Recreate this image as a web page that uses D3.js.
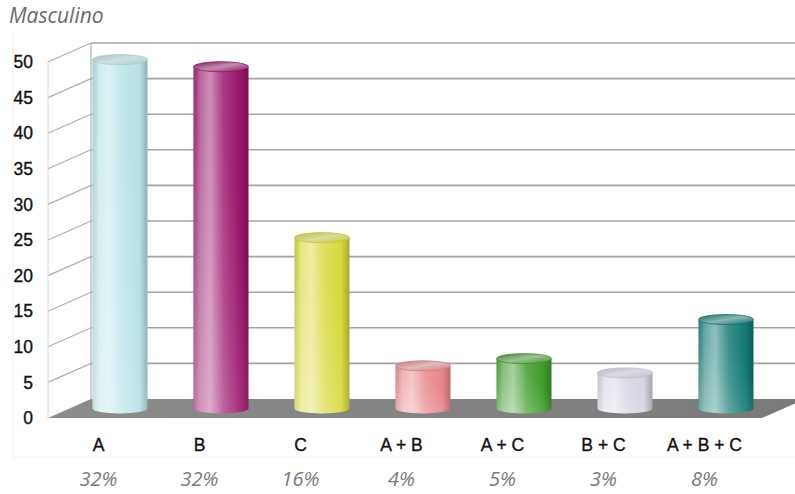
<!DOCTYPE html>
<html>
<head>
<meta charset="utf-8">
<script src="https://cdn.jsdelivr.net/npm/d3@7/dist/d3.min.js"></script>
<style>
  html, body { margin: 0; padding: 0; background: #fff; }
  svg { display: block; }
</style>
</head>
<body>
<svg id="chart" width="795" height="494"></svg>
<script>
// Data
const categories = ["A", "B", "C", "A + B", "A + C", "B + C", "A + B + C"];
const values = [49, 48, 24, 6, 7, 5, 12.5];
const shares = ["32%", "32%", "16%", "4%", "5%", "3%", "8%"];
const yTicks = [0, 5, 10, 15, 20, 25, 30, 35, 40, 45, 50];
const colors = ["#b6e2e6", "#9a156c", "#d8d83c", "#e8868a", "#3f9c2c", "#d4d4e2", "#137a74"];

const svg = d3.select("#chart");
const W = 795, H = 494;

// 3D frame: front plane and depth offset
const front = { left: 48, right: 755, bottom: 418, top: 62 };
const depth = { dx: 43, dy: -19 };

const x = d3.scaleBand().domain(categories).range([front.left, front.right]);
const y = d3.scaleLinear().domain([0, 50]).range([front.bottom, front.top]);

const defs = svg.append("defs");

// faint outer frame of chart area
svg.append("path").attr("d", `M13,30 L13,457 L${W},457`)
  .attr("fill", "none").attr("stroke", "#f0f0f0").attr("stroke-width", 1);

// floor
const floorGrad = defs.append("linearGradient").attr("id", "floor").attr("x1", 0).attr("y1", 0).attr("x2", 1).attr("y2", 0);
floorGrad.append("stop").attr("offset", "0%").attr("stop-color", "#8c8c8c");
floorGrad.append("stop").attr("offset", "100%").attr("stop-color", "#7a7a7a");
const floorRight = 762;
svg.append("path")
  .attr("d", `M${front.left},${y(0)} L${floorRight},${y(0)} L${floorRight + depth.dx},${y(0) + depth.dy} L${front.left + depth.dx},${y(0) + depth.dy} Z`)
  .attr("fill", "url(#floor)");

// back wall gridlines
const grid = svg.append("g");
grid.selectAll("line.back").data(yTicks.filter(d => d > 0)).join("line")
  .attr("class", "back")
  .attr("x1", front.left + depth.dx).attr("x2", W + 20)
  .attr("y1", d => y(d) + depth.dy).attr("y2", d => y(d) + depth.dy)
  .attr("stroke", "#a4a4a4").attr("stroke-width", 1.6);

// side wall diagonals
grid.selectAll("line.side").data(yTicks.filter(d => d > 0)).join("line")
  .attr("class", "side")
  .attr("x1", front.left).attr("x2", front.left + depth.dx)
  .attr("y1", d => y(d)).attr("y2", d => y(d) + depth.dy)
  .attr("stroke", "#b0b0b0").attr("stroke-width", 1.2);

// wall edges
grid.append("line").attr("x1", front.left + depth.dx).attr("x2", front.left + depth.dx)
  .attr("y1", y(50) + depth.dy).attr("y2", y(0) + depth.dy)
  .attr("stroke", "#b0b0b0").attr("stroke-width", 1.2);
grid.append("line").attr("x1", front.left).attr("x2", front.left)
  .attr("y1", y(50)).attr("y2", y(0))
  .attr("stroke", "#d4d4d4").attr("stroke-width", 1);

// y-axis labels
const yAxis = d3.axisLeft(y).tickValues(yTicks).tickSize(0).tickPadding(15);
const yg = svg.append("g").attr("transform", `translate(${front.left},0)`).call(yAxis);
yg.select(".domain").remove();
yg.selectAll("text")
  .attr("font-family", "Liberation Sans, Arial, sans-serif")
  .attr("font-size", 17.5).attr("fill", "#111")
  .attr("stroke", "#111").attr("stroke-width", 0.35);

// cylinders
const rx = 27.5, ry = 5;
const midDx = depth.dx / 2, midDy = depth.dy / 2;
const tint = (c, t) => d3.interpolateRgb(c, "#fff")(t);

categories.forEach((c, i) => {
  const base = d3.color(colors[i]);
  const g = defs.append("linearGradient").attr("id", "body" + i).attr("x1", 0).attr("x2", 1).attr("y1", 0).attr("y2", 0);
  const stops = [
    [0, base.darker(0.35)],
    [0.12, tint(base, 0.3)],
    [0.3, tint(base, 0.5)],
    [0.55, tint(base, 0.15)],
    [0.85, base],
    [1, base.darker(0.7)]
  ];
  stops.forEach(([o, col]) => g.append("stop").attr("offset", o).attr("stop-color", col));

  const gl = defs.append("linearGradient").attr("id", "gloss" + i).attr("x1", 0).attr("y1", 1).attr("x2", 1).attr("y2", 0);
  gl.append("stop").attr("offset", "0%").attr("stop-color", "#fff").attr("stop-opacity", 0.4);
  gl.append("stop").attr("offset", "45%").attr("stop-color", "#fff").attr("stop-opacity", 0.1);
  gl.append("stop").attr("offset", "70%").attr("stop-color", "#fff").attr("stop-opacity", 0);

  const tg = defs.append("linearGradient").attr("id", "top" + i).attr("x1", 0).attr("x2", 1).attr("y1", 0).attr("y2", 1);
  tg.append("stop").attr("offset", "0%").attr("stop-color", base.darker(0.4));
  tg.append("stop").attr("offset", "50%").attr("stop-color", d3.interpolateRgb(base, "#ddd")(0.6));
  tg.append("stop").attr("offset", "100%").attr("stop-color", base.darker(0.2));
});

const cyl = svg.append("g");
categories.forEach((c, i) => {
  const cx = x(c) + x.bandwidth() / 2 + midDx;
  const yb = y(0) + midDy;
  const yt = y(values[i]) + midDy;
  const body = `M${cx - rx},${yt} L${cx - rx},${yb} A${rx},${ry} 0 0 0 ${cx + rx},${yb} L${cx + rx},${yt} Z`;
  cyl.append("path").attr("d", body).attr("fill", `url(#body${i})`);
  cyl.append("path").attr("d", body).attr("fill", `url(#gloss${i})`);
  cyl.append("ellipse").attr("cx", cx).attr("cy", yt).attr("rx", rx).attr("ry", ry)
    .attr("fill", `url(#top${i})`)
    .attr("stroke", d3.color(colors[i]).darker(0.3)).attr("stroke-width", 0.8);
});

// category labels
svg.append("g").selectAll("text").data(categories).join("text")
  .attr("x", d => x(d) + x.bandwidth() / 2)
  .attr("y", 451)
  .attr("text-anchor", "middle")
  .attr("font-family", "Liberation Sans, Arial, sans-serif")
  .attr("font-size", 17.5).attr("fill", "#111")
  .attr("stroke", "#111").attr("stroke-width", 0.35)
  .text(d => d);

// share labels
svg.append("g").selectAll("text").data(categories).join("text")
  .attr("x", d => x(d) + x.bandwidth() / 2)
  .attr("y", 486)
  .attr("text-anchor", "middle")
  .attr("font-family", "Open Sans, sans-serif")
  .attr("font-style", "italic")
  .attr("font-size", 20).attr("fill", "#7a7a7a")
  .text((d, i) => shares[i]);

// title
svg.append("text").attr("x", 9).attr("y", 23)
  .attr("font-family", "Open Sans, sans-serif")
  .attr("font-style", "italic")
  .attr("font-size", 21).attr("fill", "#6a6a6a")
  .text("Masculino");
</script>
</body>
</html>
